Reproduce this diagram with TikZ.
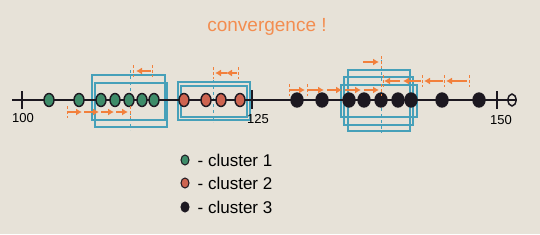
\documentclass[tikz,border=0pt]{standalone}
\usepackage{fontspec}
\setmainfont{Liberation Sans}
\usepackage{xcolor}
\usetikzlibrary{arrows.meta,positioning,shapes.geometric}

\definecolor{paper}{RGB}{231,226,216}
\definecolor{grn}{RGB}{62,140,105}
\definecolor{redd}{RGB}{205,100,80}
\definecolor{ink}{RGB}{28,24,32}
\definecolor{boxblue}{RGB}{70,160,185}
\definecolor{orng}{RGB}{242,128,60}

\begin{document}
\begin{tikzpicture}[x=1pt, y=-1pt,
dot/.style={draw=ink, ellipse, line width=1.4pt, minimum width=10pt, minimum height=13pt, inner sep=0pt},
c1/.style={dot, fill=grn},
c2/.style={dot, fill=redd},
c3/.style={dot, fill=ink, minimum width=12pt, minimum height=14pt},
box/.style={draw=boxblue, line width=1.4pt},
mid/.style={draw=boxblue, dashed, line width=0.9pt},
move/.style={draw=orng, line width=1.5pt, -{Latex[length=6pt,width=7pt]}},
cue/.style={draw=orng, densely dashed, line width=0.8pt},
lbl/.style={font=\fontsize{13}{13}\selectfont, inner sep=0pt},
legdot/.style={dot, minimum width=8pt, minimum height=10pt, line width=1pt},
legtxt/.style={font=\fontsize{17}{17}\selectfont, inner sep=0pt}
]
\fill[paper] (0,0) rectangle (540,234);

\node[text=orng!90, font=\fontsize{19}{19}\selectfont] (title) at (267,27) {convergence !};

% boxes round each cluster
\draw[box] (92,75) rectangle (165,120);
\draw[box] (95,83) rectangle (167,127);
\draw[mid] (130,70) -- (130,130);
\draw[box] (178,82) rectangle (250,120);
\draw[box] (181,86) rectangle (247,117);
\draw[mid] (213,80) -- (213,122);
\draw[box] (341,85) rectangle (417,117);
\draw[box] (344,77) rectangle (413,125);
\draw[box] (348,70) rectangle (410,131);
\draw[mid] (381,60) -- (381,133);

% number line
\coordinate (start) at (12,100);
\node[draw=ink, ellipse, line width=1.5pt, minimum width=8pt, minimum height=12pt, inner sep=0pt] (stop) at (512,100) {};
\draw[line width=2pt, ink] (start) -- (stop.east);
\draw[line width=1.6pt, ink] (22,91) -- (22,109);
\draw[line width=1.6pt, ink] (252,90) -- (252,109);
\draw[line width=1.6pt, ink] (497,91) -- (497,109);
\node[lbl] (n100) at (23,118) {100};
\node[lbl] (n125) at (258,119) {125};
\node[lbl] (n150) at (501,120) {150};

% points
\node[c1] (g1) at (49,100) {};
\node[c1] (g2) at (79,100) {};
\node[c1] (g3) at (101,100) {};
\node[c1] (g4) at (115,100) {};
\node[c1] (g5) at (129,100) {};
\node[c1] (g6) at (142,100) {};
\node[c1] (g7) at (154,100) {};
\node[c2] (r1) at (184,100) {};
\node[c2] (r2) at (206,100) {};
\node[c2] (r3) at (221,100) {};
\node[c2] (r4) at (240,100) {};
\node[c3] (b1) at (297,100) {};
\node[c3] (b2) at (322,100) {};
\node[c3] (b3) at (349,100) {};
\node[c3] (b4) at (364,100) {};
\node[c3] (b5) at (381,100) {};
\node[c3] (b6) at (398,100) {};
\node[c3] (b7) at (411,100) {};
\node[c3] (b8) at (442,100) {};
\node[c3] (b9) at (479,100) {};

% centre shifts
\draw[move] (151,71) -- (136,71);
\draw[cue] (133,65) -- (133,77);
\draw[cue] (152,65) -- (152,77);
\draw[move] (68,112) -- (82,112);
\draw[move] (84,112) -- (99,112);
\draw[move] (101,112) -- (114,112);
\draw[move] (116,112) -- (128,112);
\draw[cue] (67,106) -- (67,118);
\draw[cue] (130,106) -- (130,118);
\draw[move] (237,73) -- (226,73);
\draw[move] (227,73) -- (215,73);
\draw[cue] (213,67) -- (213,79);
\draw[cue] (238,67) -- (238,79);
\draw[move] (363,62) -- (379,62);
\draw[cue] (381,56) -- (381,68);
\draw[move] (290,90) -- (305,90);
\draw[move] (308,90) -- (324,90);
\draw[move] (327,90) -- (342,90);
\draw[move] (345,90) -- (361,90);
\draw[move] (364,90) -- (379,90);
\draw[cue] (289,84) -- (289,96);
\draw[cue] (307,84) -- (307,96);
\draw[cue] (381,84) -- (381,96);
\draw[move] (467,81) -- (446,81);
\draw[move] (443,81) -- (424,81);
\draw[move] (421,81) -- (403,81);
\draw[move] (400,81) -- (384,81);
\draw[cue] (469,75) -- (469,87);
\draw[cue] (444,75) -- (444,87);
\draw[cue] (422,75) -- (422,87);
\draw[cue] (383,75) -- (383,87);

% legend
\node[legdot, fill=grn] (k1) at (185,160) {};
\node[legtxt, right=8pt of k1] (t1) {- cluster 1};
\node[legdot, fill=redd, below=12pt of k1] (k2) {};
\node[legtxt, right=8pt of k2] (t2) {- cluster 2};
\node[legdot, fill=ink, below=13pt of k2] (k3) {};
\node[legtxt, right=8pt of k3] (t3) {- cluster 3};
\end{tikzpicture}
\end{document}
